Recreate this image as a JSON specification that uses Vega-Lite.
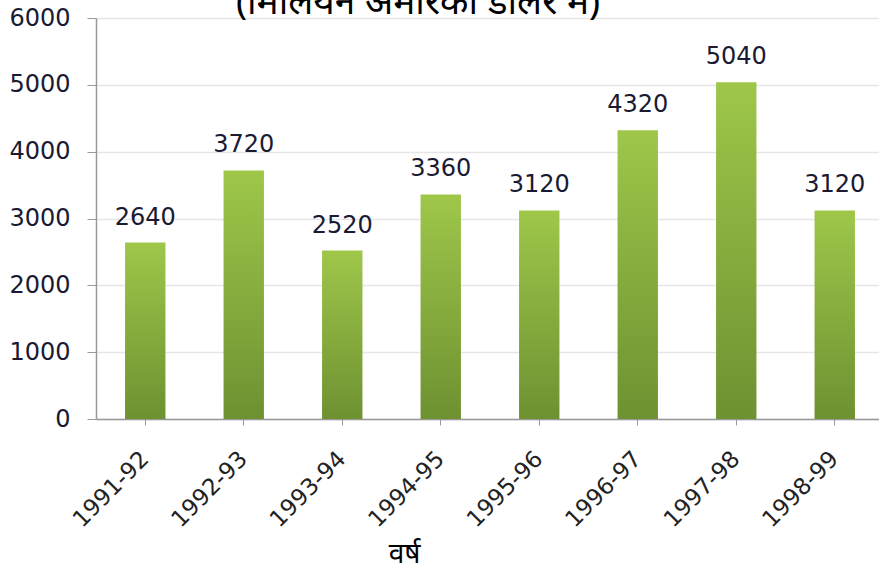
{
  "$schema": "https://vega.github.io/schema/vega-lite/v6.json",
  "width": 788,
  "height": 401,
  "autosize": "none",
  "padding": {"left": 96, "top": 18, "right": 0, "bottom": 150},
  "background": "white",
  "title": {
    "text": "(मिलियन अमेरिकी डॉलर में)",
    "fontSize": 37,
    "fontWeight": "normal",
    "font": "Noto Sans",
    "color": "#000000",
    "anchor": "middle",
    "dx": -72,
    "dy": 45,
    "offset": 0,
    "baseline": "alphabetic"
  },
  "data": {
    "values": [
      {"year": "1991-92", "value": 2640},
      {"year": "1992-93", "value": 3720},
      {"year": "1993-94", "value": 2520},
      {"year": "1994-95", "value": 3360},
      {"year": "1995-96", "value": 3120},
      {"year": "1996-97", "value": 4320},
      {"year": "1997-98", "value": 5040},
      {"year": "1998-99", "value": 3120}
    ]
  },
  "encoding": {
    "x": {
      "field": "year",
      "type": "nominal",
      "sort": null,
      "scale": {"paddingInner": 0.59, "paddingOuter": 0.295},
      "axis": {
        "title": "वर्ष",
        "titleFont": "Noto Sans",
        "titleFontSize": 28,
        "titleFontWeight": "normal",
        "titleColor": "#000000",
        "titleX": 308,
        "titleY": 143,
        "titleAnchor": "middle",
        "titleAlign": "center",
        "titleBaseline": "alphabetic",
        "labelAngle": -45,
        "labelAlign": "right",
        "labelBaseline": "middle",
        "labelFont": "DejaVu Sans",
        "labelFontSize": 23,
        "labelColor": "#222222",
        "labelPadding": 30,
        "tickSize": 6,
        "tickColor": "#999999",
        "domainColor": "#999999",
        "domainWidth": 1.5,
        "grid": false
      }
    },
    "y": {
      "field": "value",
      "type": "quantitative",
      "scale": {"domain": [0, 6000], "nice": false},
      "axis": {
        "title": null,
        "values": [0, 1000, 2000, 3000, 4000, 5000, 6000],
        "format": "d",
        "labelFont": "DejaVu Sans",
        "labelFontSize": 24,
        "labelColor": "#1a1a33",
        "labelPadding": 17,
        "tickSize": 9,
        "tickColor": "#999999",
        "domainColor": "#999999",
        "domainWidth": 1.5,
        "gridColor": "#e6e6e6",
        "gridWidth": 1.5
      }
    }
  },
  "layer": [
    {
      "mark": {
        "type": "bar",
        "color": {
          "gradient": "linear",
          "x1": 0, "y1": 0, "x2": 0, "y2": 1,
          "stops": [
            {"offset": 0, "color": "#9ec74a"},
            {"offset": 1, "color": "#6e9131"}
          ]
        }
      }
    },
    {
      "mark": {
        "type": "text",
        "font": "DejaVu Sans",
        "fontSize": 24,
        "color": "#1a1a33",
        "baseline": "alphabetic",
        "dy": -18
      },
      "encoding": {
        "text": {"field": "value", "type": "quantitative", "format": "d"}
      }
    }
  ],
  "config": {
    "view": {"stroke": null}
  }
}
